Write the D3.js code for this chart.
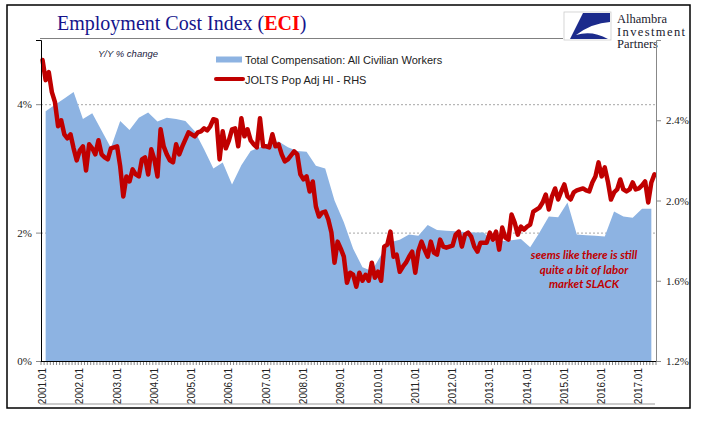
<!DOCTYPE html>
<html><head><meta charset="utf-8">
<script src="https://cdn.jsdelivr.net/npm/d3@7"></script>
<style>html,body{margin:0;padding:0;background:#fff;}svg{display:block;}</style>
</head><body>
<svg id="c" width="705" height="426"></svg>
<script>
// ---- data ----
const startYear = 2001;
const tickLabels = ["2001.01","2002.01","2003.01","2004.01","2005.01","2006.01","2007.01","2008.01","2009.01","2010.01","2011.01","2012.01","2013.01","2014.01","2015.01","2016.01","2017.01"];
// ECI total compensation, Y/Y %, quarterly (2001Q1 .. 2017Q2)
const eciValues = [3.89,3.99,4.09,4.19,3.77,3.86,3.59,3.32,3.74,3.60,3.79,3.87,3.73,3.79,3.77,3.74,
  3.58,3.30,3.00,3.09,2.75,3.05,3.27,3.33,3.40,3.42,3.33,3.27,3.26,3.04,3.00,2.50,
  2.16,1.75,1.46,1.40,1.65,1.85,1.89,1.97,1.95,2.12,2.04,2.03,2.02,2.01,2.00,2.00,
  1.86,1.87,1.88,1.90,1.77,2.00,2.25,2.24,2.47,1.97,1.96,1.95,1.94,2.33,2.25,2.23,2.37,2.37];
// JOLTS Pop Adj HI, monthly (2001.01 .. 2017.06), RHS %
const joltsValues = [2.70,2.60,2.64,2.54,2.49,2.37,2.40,2.33,2.31,2.33,2.26,2.20,
  2.25,2.27,2.15,2.28,2.26,2.23,2.30,2.23,2.215,2.205,2.26,2.265,
  2.27,2.17,2.02,2.12,2.095,2.155,2.13,2.12,2.205,2.215,2.13,2.255,
  2.205,2.12,2.355,2.27,2.23,2.20,2.19,2.28,2.23,2.27,2.305,2.34,
  2.33,2.32,2.34,2.345,2.36,2.35,2.37,2.405,2.40,2.205,2.345,2.26,
  2.30,2.355,2.36,2.27,2.41,2.32,2.355,2.30,2.28,2.265,2.41,2.27,
  2.27,2.265,2.33,2.27,2.28,2.23,2.195,2.205,2.225,2.245,2.23,2.13,
  2.105,2.12,2.045,2.095,1.97,1.92,1.94,1.945,1.905,1.84,1.69,1.795,
  1.76,1.72,1.59,1.64,1.63,1.57,1.64,1.60,1.63,1.60,1.69,1.615,
  1.645,1.60,1.77,1.78,1.845,1.72,1.73,1.645,1.67,1.69,1.72,1.745,
  1.64,1.75,1.795,1.755,1.72,1.795,1.74,1.73,1.805,1.77,1.765,1.77,
  1.775,1.83,1.845,1.77,1.83,1.84,1.82,1.77,1.745,1.79,1.79,1.79,
  1.84,1.805,1.845,1.755,1.865,1.815,1.805,1.93,1.89,1.83,1.87,1.855,
  1.87,1.88,1.945,1.955,1.965,1.99,2.03,1.955,2.02,2.06,2.005,2.045,
  2.08,2.02,2.005,2.04,2.05,2.055,2.06,2.05,2.045,2.09,2.12,2.19,
  2.12,2.165,2.095,2.005,2.04,2.055,2.105,2.055,2.045,2.055,2.09,2.055,
  2.06,2.075,2.095,1.99,2.09,2.13];
const leftTicks = [0,2,4];
const rightTicks = [1.2,1.6,2.0,2.4];
const seriesNames = ["Total Compensation: All Civilian Workers","JOLTS Pop Adj HI - RHS"];
const titleParts = ["Employment Cost Index (","ECI",")"];
const noteLines = ["seems like there is still","quite a bit  of labor","market SLACK"];
const logoLines = ["Alhambra","Investment","Partners"];

// ---- layout ----
const svg = d3.select("#c");
const P = {l:41, r:656, t:40, b:361};
const nMonths = joltsValues.length;
const x = d3.scaleLinear().domain([-0.5, nMonths - 0.5]).range([P.l, P.r]);
const yL = d3.scaleLinear().domain([0,5]).range([P.b, P.t]);
const yR = d3.scaleLinear().domain([1.2,2.8]).range([P.b, P.t]);

const blue = "#8DB3E2", red = "#C00000";

// frame
svg.append("rect").attr("x",7).attr("y",5).attr("width",683).attr("height",403)
  .attr("fill","none").attr("stroke","#000").attr("stroke-width",1.5);

// title
const title = svg.append("text").attr("x",57).attr("y",30)
  .attr("font-family","'Liberation Serif', serif").attr("font-size",20).attr("fill","#14148C");
title.append("tspan").text(titleParts[0]);
title.append("tspan").attr("fill","#FF0000").attr("font-weight","bold").text(titleParts[1]);
title.append("tspan").text(titleParts[2]);

// header rule
svg.append("line").attr("x1",40).attr("x2",563).attr("y1",38.5).attr("y2",38.5)
  .attr("stroke","#808080").attr("stroke-width",1);

// logo
const lg = svg.append("g").attr("transform","translate(564,12)");
lg.append("rect").attr("x",0).attr("y",0).attr("width",47).attr("height",28)
  .attr("fill","#fff").attr("stroke","#ccc").attr("stroke-width",0.8);
lg.append("path").attr("d","M19,1 L46,1 L46,10 Q28,11 12,23 Q28,18 44,27 L6,27 Z").attr("fill","#1C2B8C");
lg.selectAll("text.logo").data(logoLines).join("text").attr("class","logo")
  .attr("x",53).attr("y",(d,i)=>11+i*12.5)
  .attr("font-family","'Liberation Serif', serif").attr("font-size",12.5).attr("fill","#1a1a2e")
  .attr("textLength",d=>d==="Investment"?68:null)
  .text(d=>d);

// gridlines (left axis)
svg.append("g").selectAll("line").data(leftTicks.filter(d=>d>0)).join("line")
  .attr("x1",P.l).attr("x2",P.r).attr("y1",d=>yL(d)+0.5).attr("y2",d=>yL(d)+0.5)
  .attr("stroke","#A6A6A6").attr("stroke-dasharray","2,2").attr("stroke-width",1);

// ECI area
const eciPts = eciValues.map((v,k)=>({m:1+3*k, v}));
svg.append("path").datum(eciPts)
  .attr("d", d3.area().x(d=>x(d.m)).y0(yL(0)).y1(d=>yL(d.v)))
  .attr("fill", blue);

// JOLTS line
svg.append("path").datum(joltsValues.map((v,m)=>({m,v})))
  .attr("d", d3.line().x(d=>x(d.m)).y(d=>yR(d.v)))
  .attr("fill","none").attr("stroke",red).attr("stroke-width",4.5)
  .attr("stroke-linejoin","round").attr("stroke-linecap","round");

// left axis
const axL = svg.append("g").attr("transform",`translate(${P.l},0)`)
  .call(d3.axisLeft(yL).tickValues(leftTicks).tickFormat(d=>d+"%").tickSize(5).tickPadding(4));
axL.select(".domain").attr("stroke","#000");
axL.selectAll(".tick line").attr("stroke","#888");
axL.selectAll("text").attr("font-family","'Liberation Serif', serif").attr("font-size",11).attr("fill","#222");

// right axis
const axR = svg.append("g").attr("transform",`translate(${P.r},0)`)
  .call(d3.axisRight(yR).tickValues(rightTicks).tickFormat(d=>d.toFixed(1)+"%").tickSize(5).tickPadding(5));
axR.select(".domain").attr("stroke","#888");
axR.selectAll(".tick line").attr("stroke","#888");
axR.selectAll("text").attr("font-family","'Liberation Serif', serif").attr("font-size",11).attr("fill","#222");

// bottom axis: minor monthly ticks
svg.append("g").selectAll("line").data(d3.range(nMonths+1)).join("line")
  .attr("x1",d=>x(d-0.5)).attr("x2",d=>x(d-0.5)).attr("y1",P.b).attr("y2",P.b+4)
  .attr("stroke","#555").attr("stroke-width",0.7);
svg.append("line").attr("x1",P.l).attr("x2",P.r).attr("y1",P.b+0.5).attr("y2",P.b+0.5)
  .attr("stroke","#000").attr("stroke-width",1);
svg.append("g").selectAll("text").data(tickLabels).join("text")
  .attr("transform",(d,i)=>`translate(${x(i*12)+3.5},368) rotate(-90)`)
  .attr("text-anchor","end")
  .attr("font-family","'Liberation Sans', sans-serif").attr("font-size",10).attr("fill","#222")
  .text(d=>d);
svg.append("line").attr("x1",40).attr("x2",655).attr("y1",404).attr("y2",404)
  .attr("stroke","#999").attr("stroke-width",1);

// Y/Y label
svg.append("text").attr("x",98).attr("y",57).attr("font-family","'Liberation Sans', sans-serif")
  .attr("font-style","italic").attr("font-size",9.5).attr("fill","#1a1a40").text("Y/Y % change");

// legend
const leg = svg.append("g");
leg.append("rect").attr("x",216).attr("y",56.5).attr("width",26).attr("height",6).attr("fill",blue);
leg.append("line").attr("x1",216).attr("x2",243).attr("y1",79).attr("y2",79)
  .attr("stroke",red).attr("stroke-width",4).attr("stroke-linecap","round");
leg.selectAll("text").data(seriesNames).join("text")
  .attr("x",245).attr("y",(d,i)=>63.5+i*20)
  .attr("font-family","'Liberation Sans', sans-serif").attr("font-size",11).attr("fill","#222")
  .text(d=>d);

// annotation
svg.append("g").selectAll("text").data(noteLines).join("text")
  .attr("x",584).attr("y",(d,i)=>259+i*14.5).attr("text-anchor","middle")
  .attr("font-family","Lato, 'Open Sans', sans-serif").attr("font-style","italic").attr("font-weight","bold")
  .attr("font-size",11.5).attr("fill",red).text(d=>d);
</script>
</body></html>
